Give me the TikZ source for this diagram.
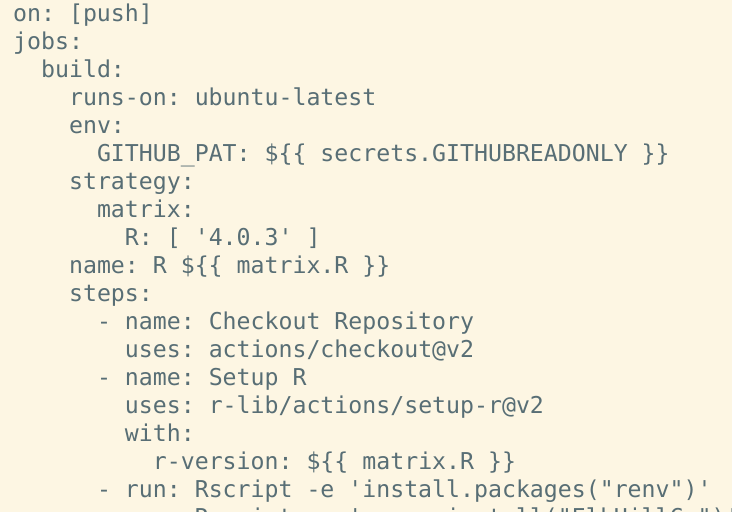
\documentclass[tikz,border=0pt]{standalone}
\usepackage{fontspec}
\setmonofont{DejaVu Sans Mono}
\definecolor{bg}{HTML}{FDF6E3}
\definecolor{fg}{HTML}{586E75}
\begin{document}
\begin{tikzpicture}[x=1pt,y=-1pt,
  codeline/.style={anchor=base west,inner sep=0pt,text=fg,font=\ttfamily\fontsize{23.2}{28}\selectfont}]
\fill[bg] (0,0) rectangle (732,512);
\clip (0,0) rectangle (732,512);
\useasboundingbox (0,0) rectangle (732,512);
\def\cw{13.97}
\def\lh{28}
\foreach \i/\ind/\t [count=\n] in {
 0/0/{on: [push]},
 1/0/{jobs:},
 2/2/{build:},
 3/4/{runs-on: ubuntu-latest},
 4/4/{env:},
 5/6/{GITHUB\_PAT: \$\{\{ secrets.GITHUBREADONLY \}\}},
 6/4/{strategy:},
 7/6/{matrix:},
 8/8/{R: [ '4.0.3' ]},
 9/4/{name: R \$\{\{ matrix.R \}\}},
 10/4/{steps:},
 11/6/{- name: Checkout Repository},
 12/8/{uses: actions/checkout@v2},
 13/6/{- name: Setup R},
 14/8/{uses: r-lib/actions/setup-r@v2},
 15/8/{with:},
 16/10/{r-version: \$\{\{ matrix.R \}\}},
 17/6/{- run: Rscript -e 'install.packages("renv")'},
 18/13/{Rscript -e 'renv::install("ElkHillCo")'}}
 \node[codeline] (l\n) at ({13+\ind*\cw},{21+\i*\lh}) {\t};
\end{tikzpicture}
\end{document}
